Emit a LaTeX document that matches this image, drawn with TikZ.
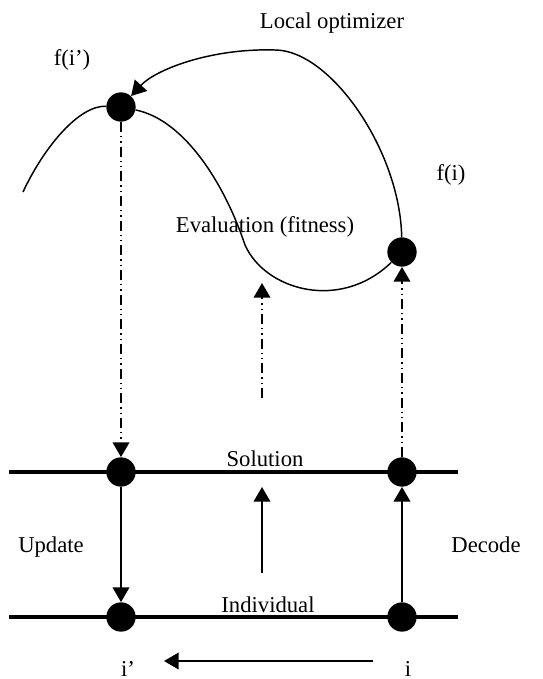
\documentclass[tikz,border=0pt]{standalone}
\usepackage{fontspec}
\setmainfont{Liberation Serif}
\usetikzlibrary{arrows.meta}

\begin{document}
\begin{tikzpicture}[x=0.75pt,y=0.75pt,yscale=-1,xscale=1,
    dot/.style={circle,fill=black,inner sep=0pt,minimum size=22pt},
    lbl/.style={anchor=base,inner sep=0.75pt,font=\fontsize{17}{20}\selectfont},
    tip/.style={-{Triangle[length=11pt,width=12.5pt]}},
    thinline/.style={line width=1.1pt},
    thickline/.style={line width=2.5pt},
    dashdotdot/.style={line width=1.1pt,dash pattern=on 7.5pt off 3pt on 1pt off 3pt on 1pt off 3pt}]
    \useasboundingbox (0,0) rectangle (543,679);

    %Shape: Circle
    \node [dot] (fip) at (121,107) {};
    \node [dot] (fi) at (402,252) {};
    \node [dot] (sl) at (121,472) {};
    \node [dot] (sr) at (402,472) {};
    \node [dot] (il) at (121,617) {};
    \node [dot] (ir) at (402,617) {};

    \coordinate (sa) at (9,472);
    \coordinate (sb) at (458,472);
    \coordinate (ia) at (9,617);
    \coordinate (ib) at (458,617);
    \coordinate (f0) at (23,192);
    \coordinate (fm) at (245,245);
    \coordinate (lo) at (275,50);
    \coordinate (em0) at (262,398);
    \coordinate (em1) at (262,283);
    \coordinate (m0) at (262,573);
    \coordinate (m1) at (262,487);
    \coordinate (b0) at (373,661);
    \coordinate (b1) at (164,661);

    %Straight Lines
    \draw [thickline] (sa) -- (sb);
    \draw [thickline] (ia) -- (ib);

    %Curve: fitness
    \draw [thinline] (f0) .. controls (45,145) and (80,105) .. (fip) .. controls (185,120) and (225,185) .. (fm) .. controls (265,290) and (340,312) .. (fi);
    %Curve: local optimizer
    \draw [thinline,tip] (fi) .. controls (400,150) and (330,50) .. (lo) .. controls (210,48) and (155,70) .. (fip);

    %Straight Lines
    \draw [dashdotdot,tip] (fip) -- (sl);
    \draw [dashdotdot,tip] (sr) -- (fi);
    \draw [dashdotdot,tip] (em0) -- (em1);
    \draw [thinline,tip] (sl) -- (il);
    \draw [thinline,tip] (ir) -- (sr);
    \draw [thinline,tip] (m0) -- (m1);
    \draw [thinline,tip] (b0) -- (b1);

    % Text Node
    \node [lbl] (tlo) at (332,28) {Local optimizer};
    % Text Node
    \node [lbl] (tfip) at (72,65) {f(i’)};
    % Text Node
    \node [lbl] (tfi) at (451,180) {f(i)};
    % Text Node
    \node [lbl] (tev) at (265,232) {Evaluation (fitness)};
    % Text Node
    \node [lbl] (tsol) at (265,466) {Solution};
    % Text Node
    \node [lbl] (tind) at (268,612) {Individual};
    % Text Node
    \node [lbl] (tupd) at (51,552) {Update};
    % Text Node
    \node [lbl] (tdec) at (486,552) {Decode};
    % Text Node
    \node [lbl] (tip2) at (128,676) {i’};
    % Text Node
    \node [lbl] (ti) at (408,676) {i};

\end{tikzpicture}
\end{document}
